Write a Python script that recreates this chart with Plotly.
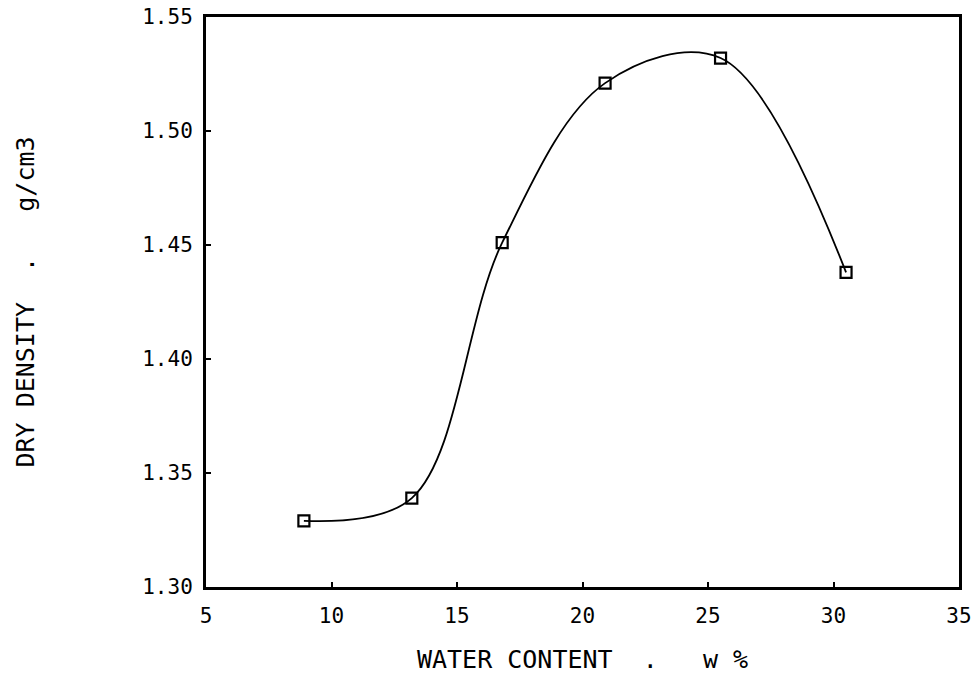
import plotly.graph_objects as go

# Compaction test: dry density vs. water content
water_content = [8.9, 13.2, 16.8, 20.9, 25.5, 30.5]
dry_density = [1.329, 1.339, 1.451, 1.521, 1.532, 1.438]

x_ticks = [5, 10, 15, 20, 25, 30, 35]
y_ticks = [1.30, 1.35, 1.40, 1.45, 1.50, 1.55]
y_tick_text = ["1.30", "1.35", "1.40", "1.45", "1.50", "1.55"]

FONT = "DejaVu Sans Mono"

fig = go.Figure()
fig.add_trace(go.Scatter(
    x=water_content,
    y=dry_density,
    mode="lines+markers",
    line=dict(color="black", width=1.8, shape="spline", smoothing=1.0),
    marker=dict(symbol="square-open", size=11, color="black",
                line=dict(color="black", width=2.2)),
    showlegend=False,
))

axis_common = dict(
    showgrid=False,
    zeroline=False,
    showline=True,
    linecolor="black",
    linewidth=3,
    mirror=True,
    ticks="inside",
    ticklen=5,
    tickwidth=1.5,
    tickcolor="black",
    automargin=False,
    tickfont=dict(family=FONT, size=21, color="black"),
)

fig.update_xaxes(
    range=[5, 35],
    tickvals=x_ticks,
    ticktext=[str(v) for v in x_ticks],
    ticklabelstandoff=8,
    title=dict(text="WATER CONTENT  .   w %",
               font=dict(family=FONT, size=25, color="black"),
               standoff=24),
    **axis_common,
)
fig.update_yaxes(
    range=[1.30, 1.55],
    tickvals=y_ticks,
    ticktext=y_tick_text,
    ticklabelstandoff=6,
    title=dict(text="DRY DENSITY  .   g/cm3",
               font=dict(family=FONT, size=25, color="black"),
               standoff=101),
    **axis_common,
)

fig.update_layout(
    width=972,
    height=676,
    margin=dict(l=206, r=13, t=17, b=89),
    paper_bgcolor="white",
    plot_bgcolor="white",
)

fig.write_html("out.html")
